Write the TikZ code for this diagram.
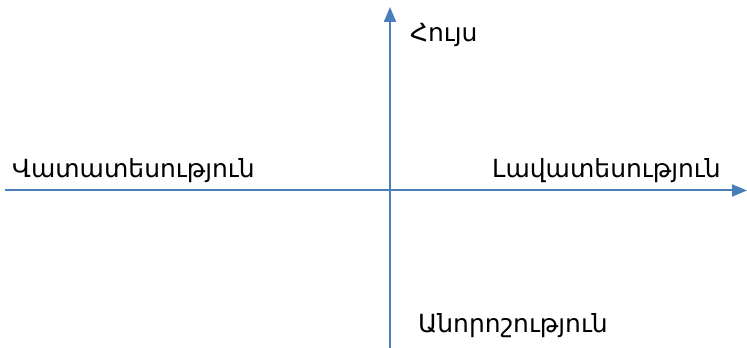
\documentclass[tikz,border=0pt]{standalone}
\usepackage{fontspec}
\newfontfamily\armfont[Script=Armenian]{DejaVu Sans}
\usetikzlibrary{arrows.meta}
\definecolor{axisblue}{HTML}{4A7EBB}
\begin{document}
\begin{tikzpicture}[x=1pt,y=1pt,
  axis/.style={draw=axisblue,line width=2pt,-{Triangle[length=15pt,width=12pt]}},
  lbl/.style={anchor=base west,inner sep=0pt,font=\armfont\fontsize{25}{28}\selectfont}]
\useasboundingbox (0,0) rectangle (747,348);
\coordinate (hl) at (5,157.5);
\coordinate (hr) at (747,157.5);
\coordinate (vb) at (390,0);
\coordinate (vt) at (390,341);
\draw[axis] (hl) -- (hr);
\draw[axis] (vb) -- (vt);
\node[lbl] (hope) at (410,306) {Հույս};
\node[lbl] (pess) at (12,170) {Վատատեսություն};
\node[lbl] (opt) at (492,170) {Լավատեսություն};
\node[lbl] (unc) at (418,15) {Անորոշություն};
\end{tikzpicture}
\end{document}
